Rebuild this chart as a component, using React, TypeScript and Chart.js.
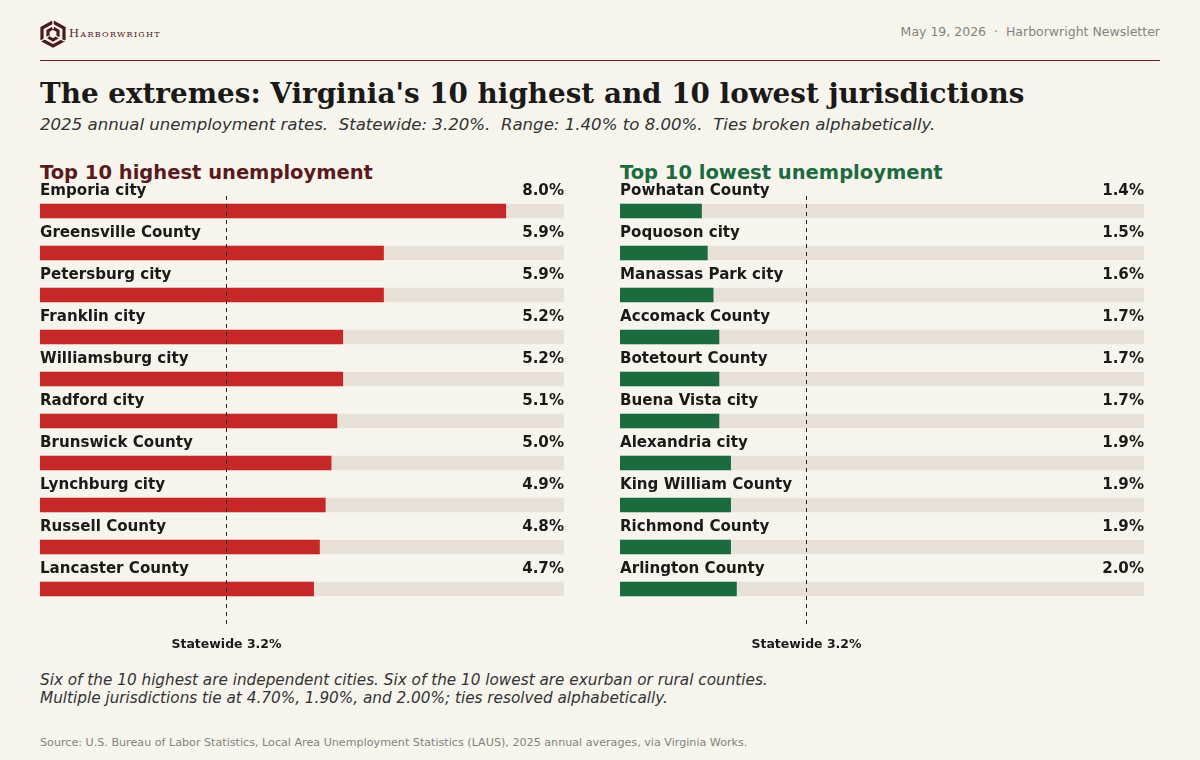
import React, { useEffect, useRef } from "react";
import { Chart, registerables } from "chart.js";

Chart.register(...registerables);

const highNames = [
  "Emporia city",
  "Greensville County",
  "Petersburg city",
  "Franklin city",
  "Williamsburg city",
  "Radford city",
  "Brunswick County",
  "Lynchburg city",
  "Russell County",
  "Lancaster County",
];
const highValues = [8.0, 5.9, 5.9, 5.2, 5.2, 5.1, 5.0, 4.9, 4.8, 4.7];

const lowNames = [
  "Powhatan County",
  "Poquoson city",
  "Manassas Park city",
  "Accomack County",
  "Botetourt County",
  "Buena Vista city",
  "Alexandria city",
  "King William County",
  "Richmond County",
  "Arlington County",
];
const lowValues = [1.4, 1.5, 1.6, 1.7, 1.7, 1.7, 1.9, 1.9, 1.9, 2.0];

const statewide = 3.2;
const axisMax = 9;

const BG = "#f7f4ee";
const TRACK = "#e8e1d7";
const RED = "#c62828";
const GREEN = "#1b6b3e";
const INK = "#1c1a18";

const CANVAS_W = 544;
const CANVAS_H = 490;

function Panel(props: { names: string[]; values: number[]; color: string; left: number; top: number }) {
  const ref = useRef<HTMLCanvasElement | null>(null);
  useEffect(() => {
    if (!ref.current) return;
    const names = props.names;
    const values = props.values;
    const overlay = {
      id: "overlay",
      afterDatasetsDraw(chart: any) {
        const ctx = chart.ctx;
        const xs = chart.scales.x;
        const meta = chart.getDatasetMeta(0);
        const area = chart.chartArea;
        ctx.save();
        const sx = Math.round(xs.getPixelForValue(statewide)) + 0.5;
        ctx.strokeStyle = "#222";
        ctx.lineWidth = 1;
        ctx.setLineDash([4, 4]);
        ctx.beginPath();
        ctx.moveTo(sx, area.top + 6);
        ctx.lineTo(sx, area.bottom + 15);
        ctx.stroke();
        ctx.setLineDash([]);
        ctx.fillStyle = INK;
        ctx.font = "bold 15.1px 'DejaVu Sans'";
        meta.data.forEach((bar: any, i: number) => {
          const y = bar.y - 16;
          ctx.textAlign = "left";
          ctx.textBaseline = "alphabetic";
          ctx.fillText(names[i], area.left, y);
          ctx.textAlign = "right";
          ctx.fillText(values[i].toFixed(1) + "%", area.right, y);
        });
        ctx.font = "bold 12.5px 'DejaVu Sans'";
        ctx.textAlign = "center";
        ctx.fillText("Statewide " + statewide.toFixed(1) + "%", sx, area.bottom + 38);
        ctx.restore();
      },
    };
    const chart = new Chart(ref.current, {
      type: "bar",
      data: {
        labels: names,
        datasets: [
          {
            data: values,
            backgroundColor: props.color,
            borderWidth: 0,
            barThickness: 14,
            grouped: false,
            order: 0,
          },
          {
            data: names.map(() => axisMax),
            backgroundColor: TRACK,
            borderWidth: 0,
            barThickness: 14,
            grouped: false,
            order: 1,
          },
        ],
      },
      options: {
        indexAxis: "y",
        responsive: false,
        animation: false,
        devicePixelRatio: 1,
        layout: { padding: { left: 10, right: 10, top: 20, bottom: 50 } },
        scales: {
          x: { min: 0, max: axisMax, display: false },
          y: { display: false },
        },
        plugins: { legend: { display: false }, tooltip: { enabled: false } },
      } as any,
      plugins: [overlay],
    });
    return () => chart.destroy();
  }, []);
  return (
    <canvas
      ref={ref}
      width={CANVAS_W}
      height={CANVAS_H}
      style={{ position: "absolute", left: props.left, top: props.top, width: CANVAS_W, height: CANVAS_H }}
    />
  );
}

function Logo() {
  return (
    <svg width="26" height="28" viewBox="0 0 26 28" style={{ position: "absolute", left: 40, top: 20 }}>
      <g fill="none" stroke="#4a1a1c" strokeWidth="3.2" strokeLinejoin="miter">
        <polyline points="13,2 24,8 24,20" />
        <polyline points="24,20 13,26 2,20" />
        <polyline points="2,20 2,8 13,2" />
        <polyline points="13,8 18,11 18,17" />
        <polyline points="18,17 13,20 8,17" />
        <polyline points="8,17 8,11 13,8" />
      </g>
      <g stroke={BG} strokeWidth="1.4">
        <line x1="13" y1="0" x2="13" y2="9" />
        <line x1="24" y1="21" x2="16" y2="16" />
        <line x1="1" y1="21" x2="9" y2="16" />
      </g>
    </svg>
  );
}

export default function App() {
  const abs = (o: React.CSSProperties): React.CSSProperties => ({ position: "absolute", whiteSpace: "nowrap", margin: 0, ...o });
  return (
    <div
      style={{
        position: "fixed",
        left: 0,
        top: 0,
        width: 1200,
        height: 760,
        background: BG,
        fontFamily: "'DejaVu Sans', sans-serif",
        overflow: "hidden",
      }}
    >
      <Logo />
      <div
        style={abs({
          left: 69,
          top: 26,
          fontFamily: "'DejaVu Serif', serif",
          fontVariant: "small-caps",
          fontSize: 11.5,
          lineHeight: "14px",
          color: "#4a1a1c",
          letterSpacing: 1.3,
        })}
      >
        Harborwright
      </div>
      <div style={abs({ right: 40, top: 24, fontSize: 12.5, lineHeight: "16px", color: "#858280" })}>
        May 19, 2026&nbsp; · &nbsp;Harborwright Newsletter
      </div>
      <div style={abs({ left: 40, top: 60, width: 1120, height: 1, background: "#6b1f22" })} />
      <div
        style={abs({
          left: 40,
          top: 80,
          fontFamily: "'DejaVu Serif', serif",
          fontWeight: "bold",
          fontSize: 27.8,
          lineHeight: "28px",
          color: INK,
        })}
      >
        The extremes: Virginia's 10 highest and 10 lowest jurisdictions
      </div>
      <div style={abs({ left: 40, top: 116, fontStyle: "italic", fontSize: 16.6, lineHeight: "17px", color: "#333" })}>
        2025 annual unemployment rates.&nbsp; Statewide: 3.20%.&nbsp; Range: 1.40% to 8.00%.&nbsp; Ties broken alphabetically.
      </div>
      <div style={abs({ left: 40, top: 163, fontWeight: "bold", fontSize: 19.5, lineHeight: "19px", color: "#5a1a1c" })}>
        Top 10 highest unemployment
      </div>
      <div style={abs({ left: 620, top: 163, fontWeight: "bold", fontSize: 19.5, lineHeight: "19px", color: GREEN })}>
        Top 10 lowest unemployment
      </div>
      <Panel names={highNames} values={highValues} color={RED} left={30} top={170} />
      <Panel names={lowNames} values={lowValues} color={GREEN} left={610} top={170} />
      <div
        style={abs({
          left: 40,
          top: 671,
          fontStyle: "italic",
          fontSize: 15.25,
          lineHeight: "18px",
          color: "#333",
        })}
      >
        Six of the 10 highest are independent cities. Six of the 10 lowest are exurban or rural counties.
        <br />
        Multiple jurisdictions tie at 4.70%, 1.90%, and 2.00%; ties resolved alphabetically.
      </div>
      <div
        style={abs({
          left: 40,
          top: 736,
          fontSize: 11.15,
          lineHeight: "13px",
          color: "#858280",
        })}
      >
        Source: U.S. Bureau of Labor Statistics, Local Area Unemployment Statistics (LAUS), 2025 annual averages, via Virginia Works.
      </div>
    </div>
  );
}
